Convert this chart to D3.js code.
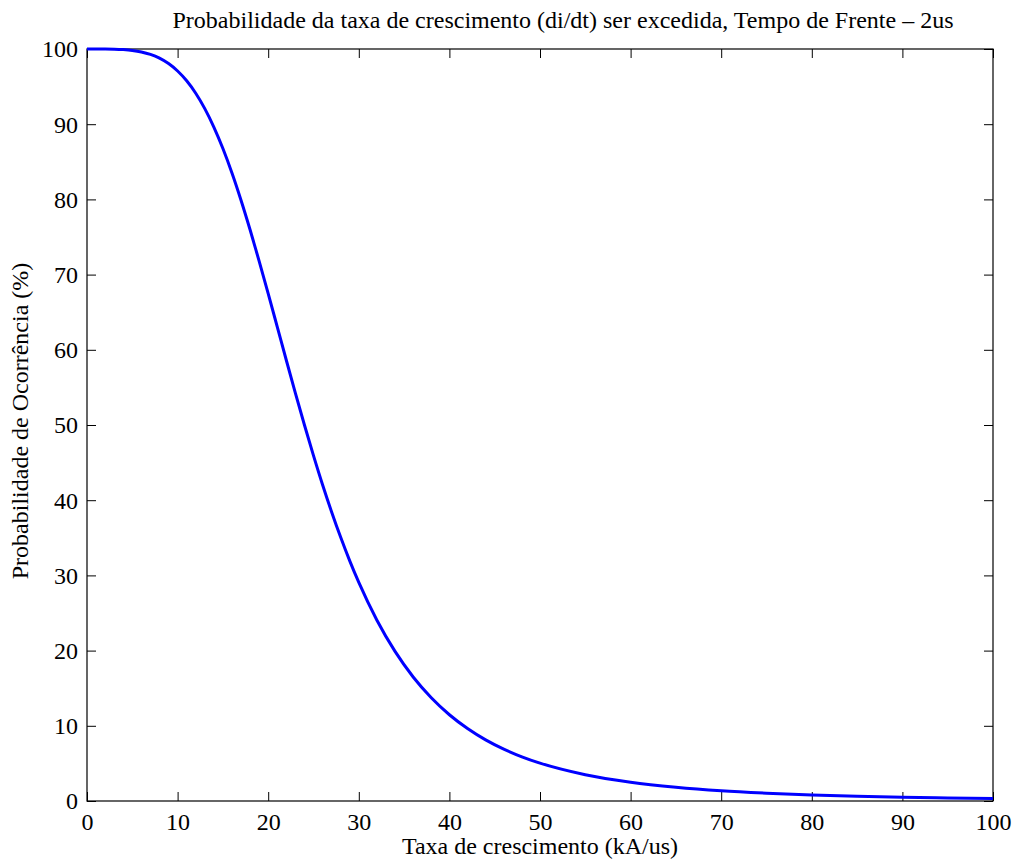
<!DOCTYPE html>
<html>
<head>
<meta charset="utf-8">
<script src="https://cdn.jsdelivr.net/npm/d3@7"></script>
<style>
  body { margin: 0; background: #fff; }
  svg { display: block; }
  text { font-family: "Liberation Serif", "Times New Roman", serif; fill: #000; }
</style>
</head>
<body>
<svg width="1014" height="860"></svg>
<script>
// Data (taxa de crescimento kA/us -> probabilidade %)
const taxa = [0, 1, 2, 3, 4, 5, 6, 7, 8, 9, 10, 11, 12, 13, 14, 15, 16, 17, 18, 19, 20, 21, 22, 23, 24, 25, 26, 27, 28, 29, 30,
              32, 34, 36, 38, 40, 42, 44, 46, 48, 50, 55, 60, 65, 70, 75, 80, 85, 90, 95, 100];
const prob = [100, 100, 100, 99.98, 99.92, 99.81, 99.61, 99.28, 98.78, 98.06, 97.07, 95.77, 94.12, 92.07, 89.62, 86.76, 83.51,
              79.89, 75.96, 71.8, 67.47, 63.05, 58.61, 54.24, 50, 45.93, 42.06, 38.44, 35.06, 31.93, 29.06,
              24.04, 19.89, 16.49, 13.73, 11.47, 9.64, 8.13, 6.9, 5.88, 5.04, 3.5, 2.5, 1.83, 1.36, 1.04, 0.8, 0.63, 0.5, 0.41, 0.33];
const xTicks = [0, 10, 20, 30, 40, 50, 60, 70, 80, 90, 100];
const yTicks = [0, 10, 20, 30, 40, 50, 60, 70, 80, 90, 100];

const titulo = "Probabilidade da taxa de crescimento (di/dt) ser excedida, Tempo de Frente \u2013 2us";
const xLabel = "Taxa de crescimento (kA/us)";
const yLabel = "Probabilidade de Ocorr\u00eancia (%)";

// The svg
const svg = d3.select("svg");
const margin = {left: 87, right: 993, top: 49, bottom: 801};
const fs = 24;

const x = d3.scaleLinear().domain([0, 100]).range([margin.left, margin.right]);
const y = d3.scaleLinear().domain([0, 100]).range([margin.bottom, margin.top]);

const tickLen = 9;

// axes (ticks pointing inward, box on all sides)
svg.append("g")
    .attr("transform", `translate(0,${margin.bottom})`)
    .call(d3.axisBottom(x).tickValues(xTicks).tickSizeInner(-tickLen).tickSizeOuter(0))
    .call(g => g.selectAll("text").attr("font-size", fs).attr("y", 29).attr("dy", 0));

svg.append("g")
    .attr("transform", `translate(0,${margin.top})`)
    .call(d3.axisTop(x).tickValues(xTicks).tickSizeInner(-tickLen).tickSizeOuter(0).tickFormat(""));

svg.append("g")
    .attr("transform", `translate(${margin.left},0)`)
    .call(d3.axisLeft(y).tickValues(yTicks).tickSizeInner(-tickLen).tickSizeOuter(0))
    .call(g => g.selectAll("text").attr("font-size", fs).attr("x", -9).attr("dy", "0.33em"));

svg.append("g")
    .attr("transform", `translate(${margin.right},0)`)
    .call(d3.axisRight(y).tickValues(yTicks).tickSizeInner(-tickLen).tickSizeOuter(0).tickFormat(""));

svg.selectAll(".domain").remove();
svg.selectAll(".tick line").attr("stroke", "#000").attr("stroke-width", 1);

svg.append("rect")
    .attr("x", margin.left).attr("y", margin.top)
    .attr("width", margin.right - margin.left).attr("height", margin.bottom - margin.top)
    .attr("fill", "none").attr("stroke", "#000").attr("stroke-width", 1.2);

// curve
const line = d3.line()
    .x((d, i) => x(taxa[i]))
    .y(d => y(d))
    .curve(d3.curveMonotoneX);

svg.append("path")
    .datum(prob)
    .attr("d", line)
    .attr("fill", "none")
    .attr("stroke", "#0000ff")
    .attr("stroke-width", 3);

// labels
svg.append("text")
    .attr("x", 563).attr("y", 28)
    .attr("text-anchor", "middle")
    .attr("font-size", fs)
    .text(titulo);

svg.append("text")
    .attr("x", (margin.left + margin.right) / 2).attr("y", 854)
    .attr("text-anchor", "middle")
    .attr("font-size", fs)
    .text(xLabel);

svg.append("text")
    .attr("transform", `translate(28,${(margin.top + margin.bottom) / 2 - 4}) rotate(-90)`)
    .attr("text-anchor", "middle")
    .attr("font-size", fs)
    .text(yLabel);
</script>
</body>
</html>
